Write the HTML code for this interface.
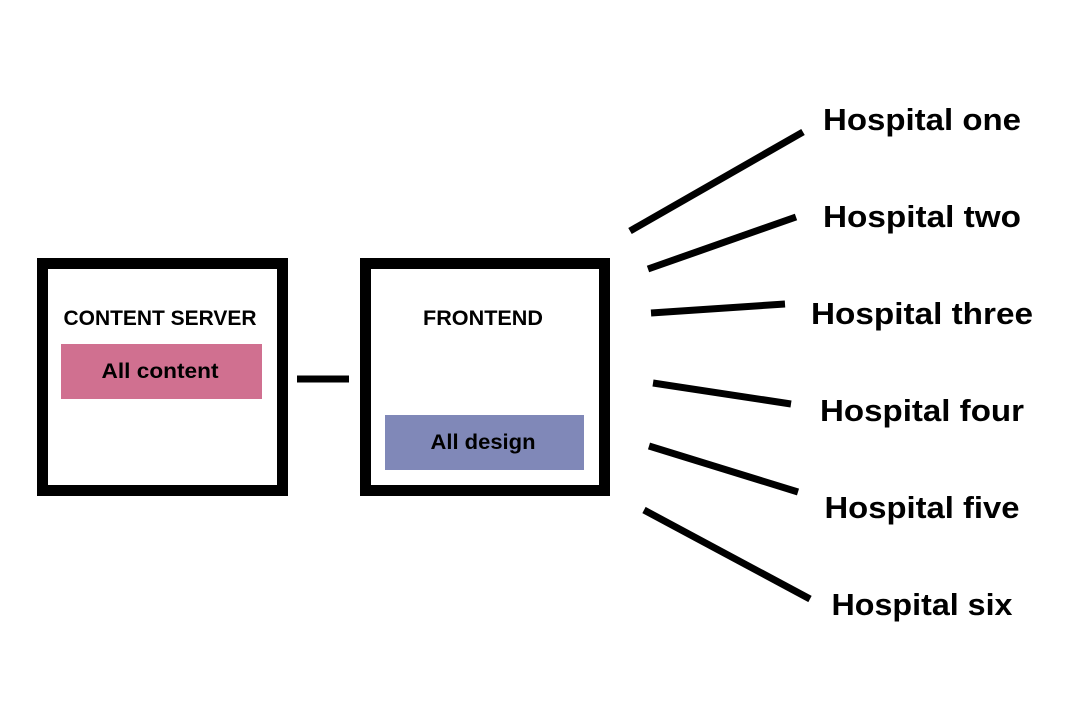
<!DOCTYPE html>
<html><head><meta charset="utf-8"><style>
body{margin:0;background:#fff;}
svg text{font-family:"Liberation Sans",sans-serif;font-weight:bold;fill:#000;}
</style></head><body>
<svg width="1070" height="710" viewBox="0 0 1070 710" xmlns="http://www.w3.org/2000/svg">
<rect width="1070" height="710" fill="#fff"/>
<rect x="42.5" y="263.5" width="240" height="227" fill="none" stroke="#000" stroke-width="11"/>
<rect x="365.5" y="263.5" width="239" height="227" fill="none" stroke="#000" stroke-width="11"/>
<rect x="61" y="344" width="201" height="55" fill="#d07090"/>
<rect x="385" y="415" width="199" height="55" fill="#8088b8"/>
<text x="160" y="325" font-size="21" text-anchor="middle" textLength="193" lengthAdjust="spacingAndGlyphs">CONTENT SERVER</text>
<text x="483" y="325" font-size="21" text-anchor="middle" textLength="120" lengthAdjust="spacingAndGlyphs">FRONTEND</text>
<text x="160" y="378" font-size="21" text-anchor="middle" textLength="117" lengthAdjust="spacingAndGlyphs">All content</text>
<text x="483" y="449" font-size="21" text-anchor="middle" textLength="105" lengthAdjust="spacingAndGlyphs">All design</text>
<line x1="297" y1="379" x2="349" y2="379" stroke="#000" stroke-width="7"/>
<g stroke="#000" stroke-width="7">
<line x1="630" y1="231" x2="803" y2="132"/>
<line x1="648" y1="269" x2="796" y2="217"/>
<line x1="651" y1="313" x2="785" y2="304"/>
<line x1="653" y1="383" x2="791" y2="404"/>
<line x1="649" y1="446" x2="798" y2="492"/>
<line x1="644" y1="510" x2="810" y2="599"/>
</g>
<g font-size="31" text-anchor="middle" lengthAdjust="spacingAndGlyphs">
<text x="922" y="130" textLength="198" lengthAdjust="spacingAndGlyphs">Hospital one</text>
<text x="922" y="227" textLength="198" lengthAdjust="spacingAndGlyphs">Hospital two</text>
<text x="922" y="324" textLength="222" lengthAdjust="spacingAndGlyphs">Hospital three</text>
<text x="922" y="421" textLength="204" lengthAdjust="spacingAndGlyphs">Hospital four</text>
<text x="922" y="518" textLength="195" lengthAdjust="spacingAndGlyphs">Hospital five</text>
<text x="922" y="615" textLength="181" lengthAdjust="spacingAndGlyphs">Hospital six</text>
</g>
</svg>
</body></html>
